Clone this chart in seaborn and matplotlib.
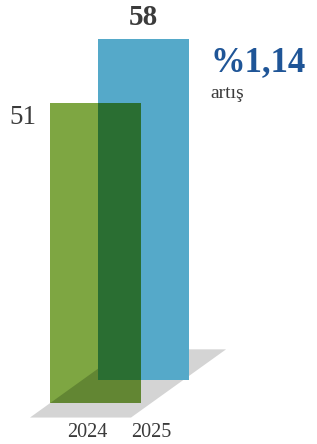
import matplotlib
matplotlib.use("Agg")
import matplotlib.pyplot as plt
from matplotlib.patches import Polygon, Rectangle
import seaborn as sns
import pandas as pd

# ---- data ----
years = ["2024", "2025"]
values = [51, 58]
change_label = "%1,14"
change_caption = "artış"

# ---- style ----
green = "#7ea642"
blue = "#55a9c9"
dark_green = "#2a6e32"
olive = "#628633"
shadow_col = "#d4d4d4"
text_col = "#3b3b3b"
accent = "#1f5597"
serif = ["Liberation Serif", "DejaVu Serif"]

sns.set_style("white")
plt.rcParams["font.family"] = serif

fig = plt.figure(figsize=(3.17, 4.44), dpi=100)
ax = fig.add_axes([0, 0, 1, 1])

df = pd.DataFrame({"year": years, "value": values})
depth = 3.91          # upward shift of the back bar (pseudo-3D depth)
bar_w = 1.9           # bars wider than category spacing -> overlap

# ground shadow (decorative plane)
shadow = Polygon([(-1.365, -2.47), (0.74, -2.47), (2.72, 9.13), (0.615, 9.13)],
                 closed=True, facecolor=shadow_col, edgecolor="none", zorder=0.5)
ax.add_patch(shadow)

n0 = len(ax.patches)
sns.barplot(data=df[df.year == years[1]], x="year", y="value", order=years,
            color=blue, width=bar_w, bottom=depth, saturation=1,
            linewidth=0, zorder=1, ax=ax)
blue_bar = ax.patches[n0:][-1]
n1 = len(ax.patches)
sns.barplot(data=df[df.year == years[0]], x="year", y="value", order=years,
            color=green, width=bar_w, saturation=1,
            linewidth=0, zorder=2, ax=ax)
green_bar = ax.patches[n1:][0]

# multiply-like overlaps, clipped to the front bar
ov1 = Polygon(shadow.get_xy(), closed=True, facecolor=olive, edgecolor="none", zorder=3)
ax.add_patch(ov1)
ov1.set_clip_path(green_bar)
ov2 = Rectangle((blue_bar.get_x(), blue_bar.get_y()), blue_bar.get_width(),
                blue_bar.get_height(), facecolor=dark_green, edgecolor="none", zorder=4)
ax.add_patch(ov2)
ov2.set_clip_path(green_bar)

ax.set_xlim(-1.99, 4.615)
ax.set_ylim(-6.97, 68.54)
ax.axis("off")

# value labels
ax.annotate(str(values[1]), xy=(1, depth + values[1]), xytext=(0, 6),
            textcoords="offset points", ha="center", va="bottom",
            fontsize=21, fontweight="bold", color=text_col)
ax.annotate(str(values[0]), xy=(-bar_w / 2, values[0]), xytext=(-10, -1),
            textcoords="offset points", ha="right", va="top",
            fontsize=19.5, color=text_col)

# change label
lab_x = 1 + bar_w / 2 + 0.45
ax.text(lab_x, depth + values[1] - 1.2, change_label,
        ha="left", va="top", fontsize=25, fontweight="bold", color=accent)
ax.text(lab_x, depth + values[1] - 7.9, change_caption,
        ha="left", va="top", fontsize=14, color=text_col)

# year labels
ax.text(-0.18, -3.4, years[0], ha="center", va="top", fontsize=14.5, color=text_col)
ax.text(1.16, -3.4, years[1], ha="center", va="top", fontsize=14.5, color=text_col)

fig.savefig("out.png", dpi=100)
